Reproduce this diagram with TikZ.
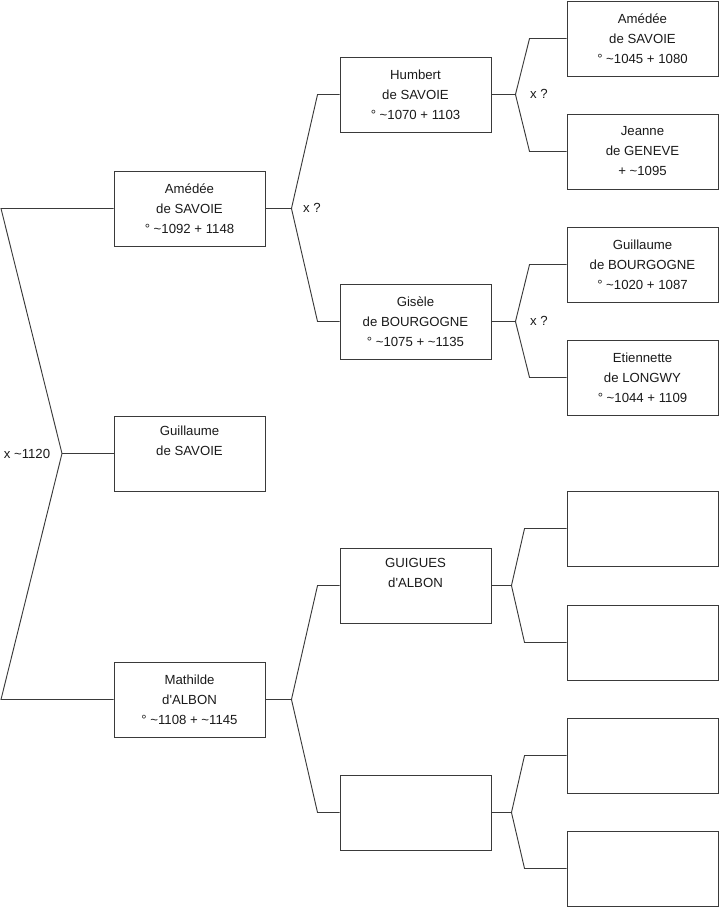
\documentclass[tikz,border=0pt]{standalone}
\usepackage{fontspec}
\setmainfont{Liberation Sans}
\usepackage{tikz}
\usetikzlibrary{
  positioning,
  calc
}
\definecolor{ftLine}{HTML}{3A3A3A}
\definecolor{ftText}{HTML}{1A1A1A}
\tikzset{
  person/.style={
    draw=ftLine, line width=0.7pt, minimum width=113.25pt, minimum height=56.25pt,
    inner sep=0pt, align=center, text=ftText,
    font=\fontsize{9.9}{15}\selectfont
  },
  link/.style={line width=0.7pt, ftLine},
  tag/.style={font=\fontsize{9.9}{12}\selectfont, text=ftText, inner sep=0pt}
}

\begin{document}
\begin{tikzpicture}[x=0.75pt, y=-0.75pt]
  \useasboundingbox (0,0) rectangle (719,908);
  % generation 1
  \foreach \name/\y/\txt in {
    amedee/208.5/{Amédée\\de SAVOIE\\° \textasciitilde1092 + 1148},
    guillaume/453.5/{Guillaume\\de SAVOIE\\\strut},
    mathilde/699.5/{Mathilde\\d\textquotesingle ALBON\\° \textasciitilde1108 + \textasciitilde1145}}{
    \node[person] (\name) at (189.5, \y) {\txt};
  }
  % generation 2
  \foreach \name/\y/\txt in {
    humbert/94.5/{Humbert\\de SAVOIE\\° \textasciitilde1070 + 1103},
    gisele/321.5/{Gisèle\\de BOURGOGNE\\° \textasciitilde1075 + \textasciitilde1135},
    guigues/585.5/{GUIGUES\\d\textquotesingle ALBON\\\strut},
    albonw/812.5/{}}{
    \node[person] (\name) at (415.5, \y) {\txt};
  }
  % generation 3
  \foreach \name/\y/\txt in {
    amedeeb/38.5/{Amédée\\de SAVOIE\\° \textasciitilde1045 + 1080},
    jeanne/151.5/{Jeanne\\de GENEVE\\+ \textasciitilde1095},
    guillaumeb/264.5/{Guillaume\\de BOURGOGNE\\° \textasciitilde1020 + 1087},
    etiennette/377.5/{Etiennette\\de LONGWY\\° \textasciitilde1044 + 1109},
    g5/528.5/{}, g6/642.5/{}, g7/755.5/{}, g8/868.5/{}}{
    \node[person] (\name) at (642.5, \y) {\txt};
  }

  % root bracket
  \coordinate (root) at (62, 453.5);
  \draw[link] (amedee.west) -- (1, 208.5) -- (root) -- (1, 699.5) -- (mathilde.west);
  \draw[link] (root) -- (guillaume.west);
  \node[tag] (m0) at (27, 453.5) {x \textasciitilde1120};

  % generation 1 -> 2
  \foreach \kid/\mum/\dad in {amedee/humbert/gisele, mathilde/guigues/albonw}{
    \coordinate (j-\kid) at ($(\kid.east)+(26,0)$);
    \draw[link] (\kid.east) -- (j-\kid);
    \draw[link] (\mum.west) -- ++(-22,0) -- (j-\kid) -- ($(\dad.west)+(-22,0)$) -- (\dad.west);
  }
  \node[tag] (m1) at (312, 207.5) {x ?};

  % generation 2 -> 3
  \foreach \kid/\mum/\dad/\dx/\dy in {humbert/amedeeb/jeanne/24/37, gisele/guillaumeb/etiennette/24/37,
    guigues/g5/g6/20/42, albonw/g7/g8/20/42}{
    \coordinate (j-\kid) at ($(\kid.east)+(\dx,0)$);
    \draw[link] (\kid.east) -- (j-\kid);
    \draw[link] (\mum.west) -- ++(-\dy,0) -- (j-\kid) -- ($(\dad.west)+(-\dy,0)$) -- (\dad.west);
  }
  \node[tag] (m2) at (539, 93.5) {x ?};
  \node[tag] (m3) at (539, 320.5) {x ?};
\end{tikzpicture}
\end{document}
